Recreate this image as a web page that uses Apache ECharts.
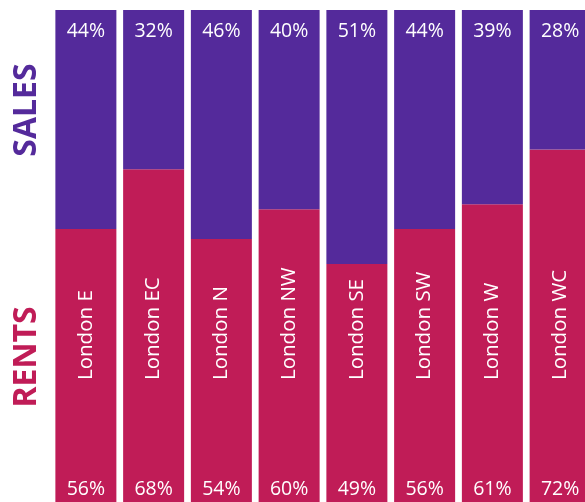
<!DOCTYPE html>
<html><head><meta charset="utf-8">
<script src="https://cdn.jsdelivr.net/npm/echarts@6/dist/echarts.min.js"></script>
<style>html,body{margin:0;padding:0;background:#fff}#c{width:585px;height:502px}</style>
</head><body><div id="c"></div>
<script>
const categories = ['London E','London EC','London N','London NW','London SE','London SW','London W','London WC'];
const rents = [56,68,54,60,49,56,61,72];
const sales = [44,32,46,40,51,44,39,28];
const FONT = '"Open Sans", "Noto Sans", sans-serif';
const chart = echarts.init(document.getElementById('c'));
chart.setOption({
  animation:false,
  grid:{left:52,right:-9,top:10,bottom:-6,outerBoundsMode:'none',containLabel:false},
  xAxis:{type:'category',data:categories,axisLine:{show:false},axisTick:{show:false},
    axisLabel:{inside:true,rotate:90,margin:128,color:'#fff',fontSize:20.5,fontFamily:FONT},z:10},
  yAxis:{type:'value',min:0,max:100,show:false},
  series:[
    {name:'Rents',type:'bar',stack:'s',data:rents,barWidth:61,itemStyle:{color:'#C01C57'},
     label:{show:true,position:'insideBottom',distance:9,formatter:'{c}%',color:'#fff',fontSize:19.5,fontFamily:FONT}},
    {name:'Sales',type:'bar',stack:'s',data:sales,barWidth:61,itemStyle:{color:'#542A9B'},
     label:{show:true,position:'insideTop',distance:11,formatter:'{c}%',color:'#fff',fontSize:19.5,fontFamily:FONT}}
  ],
  graphic:[
    {type:'text',x:27,y:110,rotation:Math.PI/2,style:{text:'SALES',fill:'#542A9B',font:'bold 32px '+FONT,align:'center',verticalAlign:'middle'}},
    {type:'text',x:27,y:357,rotation:Math.PI/2,style:{text:'RENTS',fill:'#C01C57',font:'bold 32px '+FONT,align:'center',verticalAlign:'middle'}}
  ]
});
</script></body></html>
